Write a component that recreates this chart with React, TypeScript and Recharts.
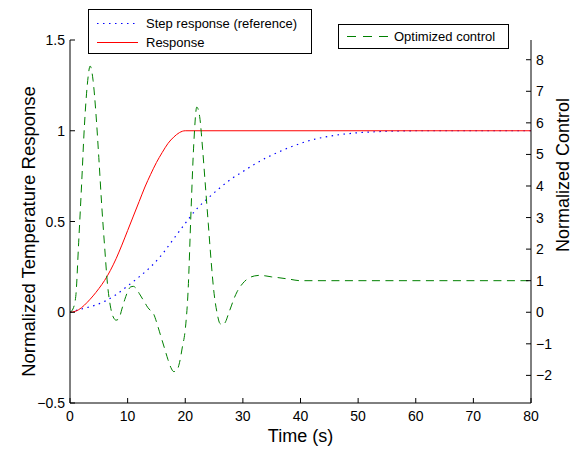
import React from 'react';
import { LineChart, Line, XAxis, YAxis } from 'recharts';

// Time ticks and axis ticks
const timeTicks = [0, 10, 20, 30, 40, 50, 60, 70, 80];
const tempTicks = [-0.5, 0, 0.5, 1, 1.5];
const controlTicks = [-2, -1, 0, 1, 2, 3, 4, 5, 6, 7, 8];

// Step response (reference)
const refTime = [0, 2, 4, 6, 8, 10, 12, 14, 16, 18, 20, 22, 24, 26, 28, 30, 32, 34, 36, 38, 40, 42, 44, 46, 48, 50, 52, 54, 56, 58, 60, 80];
const refValues = [0, 0.018, 0.035, 0.06, 0.097, 0.145, 0.195, 0.25, 0.32, 0.405, 0.49, 0.57, 0.63, 0.685, 0.735, 0.775, 0.815, 0.85, 0.88, 0.907, 0.93, 0.95, 0.964, 0.975, 0.983, 0.989, 0.993, 0.996, 0.998, 0.999, 1, 1];

// Response
const respTime = [0, 1, 2, 3, 4, 5, 6, 7, 8, 9, 10, 11, 12, 13, 14, 15, 16, 17, 18, 19, 20, 80];
const respValues = [0, 0.006, 0.025, 0.055, 0.09, 0.13, 0.175, 0.23, 0.295, 0.37, 0.45, 0.53, 0.61, 0.69, 0.76, 0.825, 0.88, 0.93, 0.965, 0.99, 1, 1];

// Optimized control
const ctrlTime = [0, 0.5, 1, 1.5, 2, 2.5, 3, 3.5, 4, 4.5, 5, 5.5, 6, 6.5, 7, 7.5, 8, 8.5, 9, 9.5, 10, 10.5, 11, 11.5, 12, 12.5, 13, 13.5, 14, 14.5, 15, 15.5, 16, 16.5, 17, 17.5, 18, 18.5, 19, 19.5, 20, 20.5, 21, 21.5, 22, 22.5, 23, 23.5, 24, 24.5, 25, 25.5, 26, 26.5, 27, 27.5, 28, 28.5, 29, 29.5, 30, 31, 32, 33, 34, 35, 36, 38, 40, 80];
const ctrlValues = [0, 0.1, 0.5, 2.2, 4.0, 5.9, 7.2, 7.8, 7.35, 6.3, 4.9, 3.4, 2.1, 0.9, 0.2, -0.15, -0.25, -0.2, 0.1, 0.4, 0.65, 0.8, 0.82, 0.75, 0.6, 0.45, 0.3, 0.15, 0.05, -0.05, -0.3, -0.6, -0.9, -1.2, -1.5, -1.75, -1.88, -1.85, -1.6, -1.1, -0.55, 0.7, 3.2, 5.4, 6.5, 6.2, 5.2, 4.0, 2.8, 1.6, 0.6, 0.0, -0.35, -0.4, -0.3, -0.05, 0.2, 0.45, 0.65, 0.8, 0.92, 1.08, 1.15, 1.17, 1.15, 1.12, 1.1, 1.05, 1.0, 1.0];

const toRows = (ts: number[], vs: number[]) => ts.map((t, i) => ({ t, v: vs[i] }));
const refData = toRows(refTime, refValues);
const respData = toRows(respTime, respValues);
const ctrlData = toRows(ctrlTime, ctrlValues);

const FONT = '"Liberation Sans", Arial, Helvetica, sans-serif';
const M = 5; // tick margin
const TL = 5; // inward tick length

const fmt = (v: number) => String(v).replace('-', '\u2212');

const LeftTick = (props: any) => {
  const { x, y, payload } = props;
  const ax = x + M;
  return (
    <g>
      <line x1={ax} x2={ax + TL} y1={y} y2={y} stroke="#000" strokeWidth={1} />
      <text x={x} y={y} dy="0.36em" textAnchor="end" fontSize={14} fontFamily={FONT} fill="#000">{fmt(payload.value)}</text>
    </g>
  );
};

const RightTick = (props: any) => {
  const { x, y, payload } = props;
  const ax = x - M;
  return (
    <g>
      <line x1={ax} x2={ax - TL} y1={y} y2={y} stroke="#000" strokeWidth={1} />
      <text x={x} y={y} dy="0.36em" textAnchor="start" fontSize={14} fontFamily={FONT} fill="#000">{fmt(payload.value)}</text>
    </g>
  );
};

const BottomTick = (props: any) => {
  const { x, y, payload } = props;
  const ay = y - M;
  return (
    <g>
      <line x1={x} x2={x} y1={ay} y2={ay - TL} stroke="#000" strokeWidth={1} />
      <text x={x} y={ay + 18} textAnchor="middle" fontSize={14} fontFamily={FONT} fill="#000">{fmt(payload.value)}</text>
    </g>
  );
};

const LeftTitle = (props: any) => {
  const vb = props.viewBox || { x: 0, y: 40, width: 70, height: 363 };
  const cx = vb.x + 35;
  const cy = vb.y + vb.height / 2 + 10;
  return (
    <text x={cx} y={cy} transform={`rotate(-90 ${cx} ${cy})`} textAnchor="middle" fontSize={18.5} fontFamily={FONT} fill="#000">
      Normalized Temperature Response
    </text>
  );
};

const RightTitle = (props: any) => {
  const vb = props.viewBox || { x: 531, y: 40, width: 42, height: 363 };
  const cx = vb.x + 38;
  const cy = vb.y + 135;
  return (
    <text x={cx} y={cy} transform={`rotate(-90 ${cx} ${cy})`} textAnchor="middle" fontSize={18} fontFamily={FONT} fill="#000">
      Normalized Control
    </text>
  );
};

const legendText: React.CSSProperties = { fontFamily: FONT, fontSize: 13, color: '#000', lineHeight: '15px', whiteSpace: 'nowrap' };

export default function App() {
  return (
    <div style={{ position: 'absolute', left: 0, top: 0, width: 573, height: 449, background: '#fff' }}>
      <LineChart width={573} height={449} margin={{ top: 40, right: 0, bottom: 0, left: 0 }}>
        <XAxis
          dataKey="t"
          type="number"
          domain={[0, 80]}
          ticks={timeTicks}
          height={46}
          tickSize={0}
          tickMargin={M}
          tickLine={false}
          axisLine={{ stroke: '#000' }}
          tick={<BottomTick />}
          allowDataOverflow
          label={{ value: 'Time (s)', position: 'insideBottom', offset: 7, fontSize: 18, fontFamily: FONT, fill: '#000' }}
        />
        <YAxis
          yAxisId="left"
          orientation="left"
          type="number"
          domain={[-0.5, 1.5]}
          ticks={tempTicks}
          width={70}
          tickSize={0}
          tickMargin={M}
          tickLine={false}
          axisLine={{ stroke: '#000' }}
          tick={<LeftTick />}
          allowDataOverflow
          label={<LeftTitle />}
        />
        <YAxis
          yAxisId="right"
          orientation="right"
          type="number"
          domain={[-2.875, 8.625]}
          ticks={controlTicks}
          width={42}
          tickSize={0}
          tickMargin={M}
          tickLine={false}
          axisLine={{ stroke: '#000' }}
          tick={<RightTick />}
          allowDataOverflow
          label={<RightTitle />}
        />
        <Line yAxisId="left" data={refData} dataKey="v" type="monotone" stroke="#0000ff" strokeWidth={1.2} strokeDasharray="1.5 4.5" dot={false} activeDot={false} isAnimationActive={false} />
        <Line yAxisId="left" data={respData} dataKey="v" type="monotone" stroke="#ff0000" strokeWidth={1} dot={false} activeDot={false} isAnimationActive={false} />
        <Line yAxisId="right" data={ctrlData} dataKey="v" type="monotone" stroke="#008000" strokeWidth={1} strokeDasharray="8 5.5" dot={false} activeDot={false} isAnimationActive={false} />
      </LineChart>

      <div style={{ position: 'absolute', left: 88, top: 9, width: 222, height: 43, border: '1px solid #000', background: '#fff' }}>
        <div style={{ position: 'absolute', left: 8, top: 6, display: 'flex', alignItems: 'center' }}>
          <svg width={41} height={15}><line x1={0} x2={41} y1={7.5} y2={7.5} stroke="#0000ff" strokeWidth={1.2} strokeDasharray="1.5 4.5" /></svg>
          <span style={{ ...legendText, marginLeft: 8 }}>Step response (reference)</span>
        </div>
        <div style={{ position: 'absolute', left: 8, top: 25, display: 'flex', alignItems: 'center' }}>
          <svg width={41} height={15}><line x1={0} x2={41} y1={7.5} y2={7.5} stroke="#ff0000" strokeWidth={1} /></svg>
          <span style={{ ...legendText, marginLeft: 8 }}>Response</span>
        </div>
      </div>

      <div style={{ position: 'absolute', left: 338, top: 24, width: 169, height: 23, border: '1px solid #000', background: '#fff' }}>
        <div style={{ position: 'absolute', left: 8, top: 4, display: 'flex', alignItems: 'center' }}>
          <svg width={43} height={15}><line x1={0} x2={43} y1={7.5} y2={7.5} stroke="#008000" strokeWidth={1} strokeDasharray="9 7" /></svg>
          <span style={{ ...legendText, marginLeft: 4 }}>Optimized control</span>
        </div>
      </div>
    </div>
  );
}
